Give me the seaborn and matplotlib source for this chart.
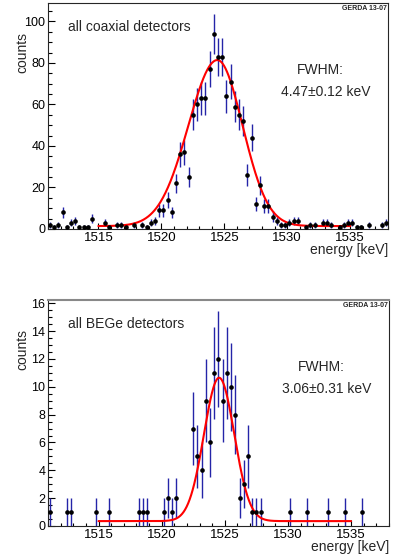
import numpy as np
import pandas as pd
import matplotlib
matplotlib.use("Agg")
import matplotlib.pyplot as plt
import seaborn as sns
from matplotlib.ticker import MultipleLocator

# histogram binning: 1/3 keV bins between 1511 and 1538 keV
bin_lo = 1511.0
bin_width = 1.0 / 3.0
n_bins = 81

# counts per bin
coax_counts = [2, 1, 2, 8, 1, 3, 4, 1, 1, 1, 5,
               0, 0, 3, 1, 0, 2, 2, 1, 0, 2,
               0, 2, 1, 3, 4, 9, 9, 14, 8, 22,
               36, 37, 25, 55, 60, 63, 63, 77, 94, 83,
               83, 64, 71, 59, 55, 52, 26, 44, 12, 21,
               11, 11, 6, 4, 2, 2, 3, 4, 4, 0,
               1, 2, 2, 0, 3, 3, 2, 0, 1, 2,
               3, 3, 1, 1, 0, 2, 0, 0, 2, 3]

bege_counts = [1, 0, 0, 0, 1, 1, 0, 0, 0, 0, 0,
               1, 0, 0, 1, 0, 0, 0, 0, 0, 0,
               1, 1, 1, 0, 0, 0, 1, 2, 1, 2,
               0, 0, 0, 7, 5, 4, 9, 6, 11, 12,
               9, 11, 10, 8, 2, 3, 5, 1, 1, 1,
               0, 0, 0, 0, 0, 0, 1, 0, 0, 0,
               1, 0, 0, 0, 0, 1, 0, 0, 0, 1,
               0, 0, 0, 1, 0, 0, 0, 0, 0, 0]

# fitted line shape: peak height, centre, low/high side width, flat background
coax_fit = {"amp": 80.0, "mu": 1524.45, "sig_lo": 2.3, "sig_hi": 2.0, "bkg": 1.4}
bege_fit = {"amp": 10.3, "mu": 1524.55, "sig_lo": 1.2, "sig_hi": 1.2, "bkg": 0.35}
fit_range = (1515.0, 1535.0)

panel_labels = ["all coaxial detectors", "all BEGe detectors"]
fwhm_labels = ["4.47\u00b10.12 keV", "3.06\u00b10.31 keV"]
tag = "GERDA 13-07"

sns.set_style("ticks")
plt.rcParams["font.family"] = ["Liberation Sans", "DejaVu Sans"]
plt.rcParams["axes.linewidth"] = 0.8

ERR_COLOR = "#2424a8"


def fit_curve(e, p):
    sig = np.where(e < p["mu"], p["sig_lo"], p["sig_hi"])
    return p["bkg"] + p["amp"] * np.exp(-0.5 * ((e - p["mu"]) / sig) ** 2)


def draw_panel(ax, counts, fit, label, fwhm, y_major, y_minor):
    centers = bin_lo + (np.arange(n_bins) + 0.5) * bin_width
    df = pd.DataFrame({"energy": centers, "counts": counts})
    df = df[df["counts"] > 0]
    err = np.sqrt(df["counts"])

    ax.vlines(df["energy"], df["counts"] - err, df["counts"] + err,
              color=ERR_COLOR, lw=1.0, zorder=2)

    e = np.linspace(fit_range[0], fit_range[1], 500)
    sns.lineplot(x=e, y=fit_curve(e, fit), ax=ax, color="red", lw=1.5, zorder=3)
    sns.scatterplot(data=df, x="energy", y="counts", ax=ax, color="black",
                    s=11, linewidth=0, zorder=4)

    ymax = (df["counts"] + err).max() * 1.05
    ax.set_xlim(1511, 1538)
    ax.set_ylim(0, ymax)

    ax.xaxis.set_major_locator(MultipleLocator(5))
    ax.xaxis.set_minor_locator(MultipleLocator(1))
    ax.yaxis.set_major_locator(MultipleLocator(y_major))
    ax.yaxis.set_minor_locator(MultipleLocator(y_minor))
    ax.tick_params(axis="both", which="both", direction="in", top=False, right=False,
                   width=0.8, color="black", labelcolor="black", pad=2)
    ax.tick_params(axis="x", which="major", length=4.5, labelsize=9.5)
    ax.tick_params(axis="x", which="minor", length=2.5)
    ax.tick_params(axis="y", which="major", length=4.8, labelsize=9)
    ax.tick_params(axis="y", which="minor", length=2.8)
    ax.set_xlabel("")
    ax.set_ylabel("")

    ax.text(0.058, 0.895, label, transform=ax.transAxes, fontsize=10,
            ha="left", va="center")
    ax.text(0.732, 0.704, "FWHM:", transform=ax.transAxes, fontsize=10,
            ha="left", va="center")
    ax.text(0.685, 0.604, fwhm, transform=ax.transAxes, fontsize=10,
            ha="left", va="center")
    ax.text(0.996, 0.975, tag, transform=ax.transAxes, fontsize=5,
            fontweight="bold", ha="right", va="center")
    ax.text(-0.076, 0.87, "counts", transform=ax.transAxes, fontsize=10,
            rotation=90, ha="center", va="top")
    ax.text(1.0, -0.064, "energy [keV]", transform=ax.transAxes, fontsize=10,
            ha="right", va="top")


fig = plt.figure(figsize=(3.96, 5.57), dpi=100)
ax_top = fig.add_axes([0.1212, 0.5889, 0.8586, 0.4057])
ax_bot = fig.add_axes([0.1212, 0.0557, 0.8611, 0.4057])

draw_panel(ax_top, coax_counts, coax_fit, panel_labels[0], fwhm_labels[0], 20, 5)
draw_panel(ax_bot, bege_counts, bege_fit, panel_labels[1], fwhm_labels[1], 2, 0.5)
ax_bot.spines["top"].set_color("#888888")
ax_bot.spines["top"].set_linewidth(1.5)

fig.savefig("out.png", dpi=100)
